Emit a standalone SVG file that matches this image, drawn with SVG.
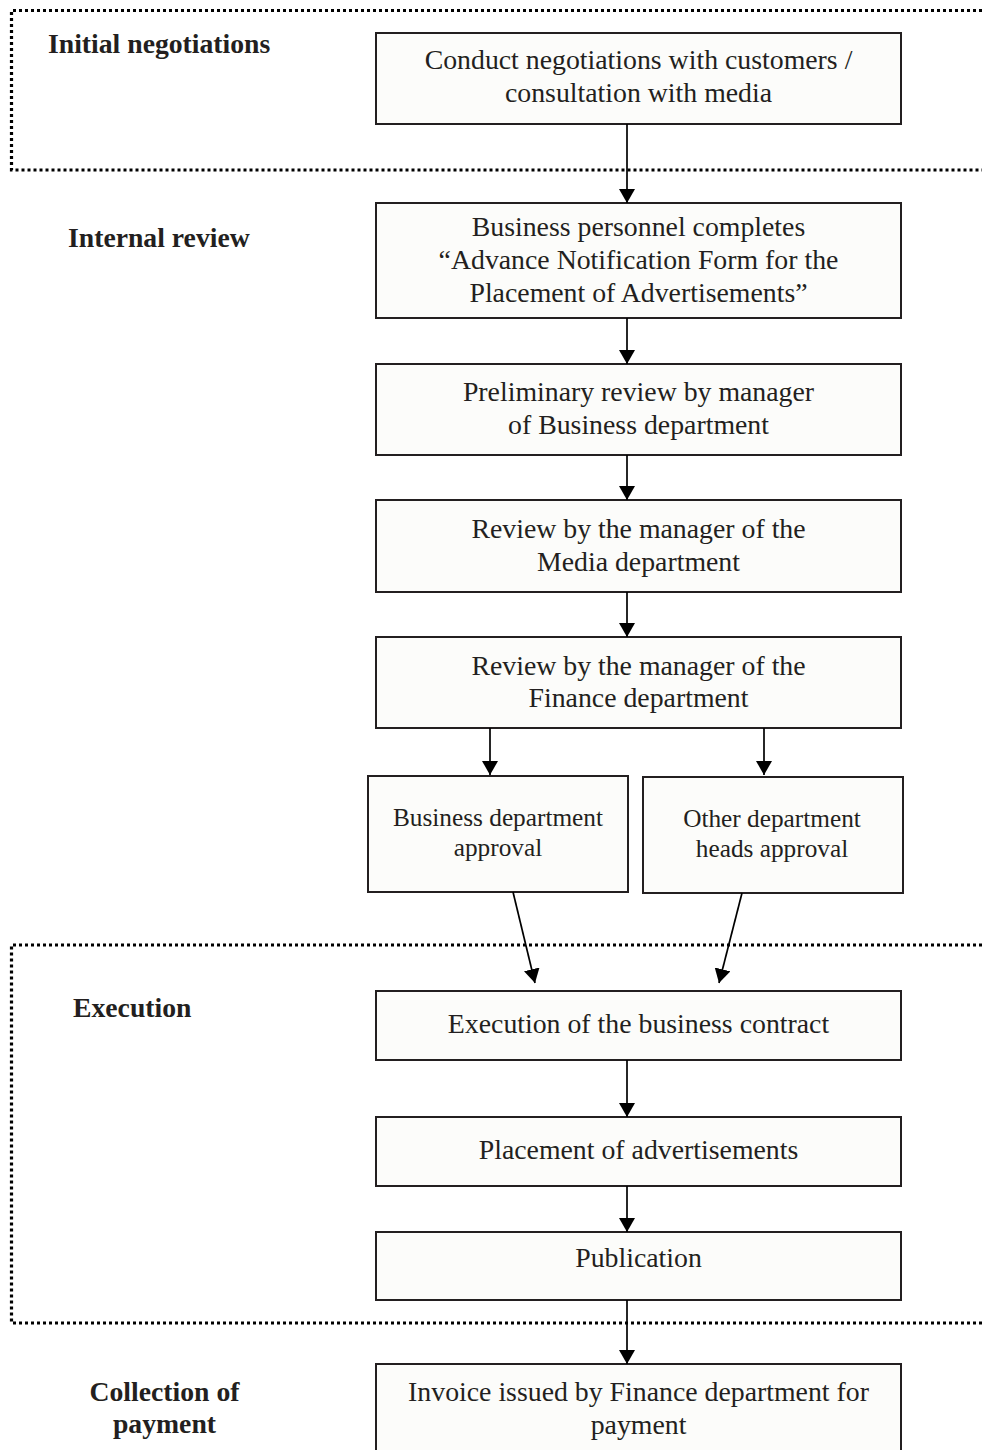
<svg xmlns="http://www.w3.org/2000/svg" width="982" height="1450" viewBox="0 0 982 1450">
<style>
.bg{fill:#ffffff}
.zone{fill:none;stroke:#000;stroke-width:3.2;stroke-dasharray:3 3}
.box{fill:#fcfcfa;stroke:#231f20;stroke-width:2}
.t{font-family:"Liberation Serif","Times New Roman",serif;font-size:27.8px;fill:#231f20;text-anchor:middle}
.ts{font-family:"Liberation Serif","Times New Roman",serif;font-size:25.3px;fill:#231f20;text-anchor:middle}
.lab{font-family:"Liberation Serif","Times New Roman",serif;font-size:27.7px;font-weight:bold;fill:#231f20}
.conn{stroke:#000;stroke-width:1.7;fill:none;marker-end:url(#ah)}
</style>
<defs>
<marker id="ah" markerUnits="userSpaceOnUse" markerWidth="14" markerHeight="16" viewBox="0 0 14 16" refX="14" refY="8" orient="auto">
<path d="M0,0 L14,8 L0,16 z" fill="#000"/>
</marker>
</defs>
<rect class="bg" x="0" y="0" width="982" height="1450"/>
<g id="zones">
<path class="zone" d="M982,10.5 H11.5 V170 H982"/>
<path class="zone" d="M982,945 H11.5 V1323 H982"/>
</g>
<g id="labels">
<text class="lab" x="48" y="53">Initial negotiations</text>
<text class="lab" x="68" y="247">Internal review</text>
<text class="lab" x="73" y="1017">Execution</text>
<text class="lab" x="164.5" y="1401" text-anchor="middle">Collection of</text>
<text class="lab" x="164.5" y="1433" text-anchor="middle">payment</text>
</g>
<g id="n1"><rect class="box" x="376" y="33" width="525" height="91"/>
<text class="t" x="638.5" y="69">Conduct negotiations with customers /</text>
<text class="t" x="638.5" y="102">consultation with media</text></g>
<g id="n2"><rect class="box" x="376" y="203" width="525" height="115"/>
<text class="t" x="638.5" y="236">Business personnel completes</text>
<text class="t" x="638.5" y="269">“Advance Notification Form for the</text>
<text class="t" x="638.5" y="302">Placement of Advertisements”</text></g>
<g id="n3"><rect class="box" x="376" y="364" width="525" height="91"/>
<text class="t" x="638.5" y="401">Preliminary review by manager</text>
<text class="t" x="638.5" y="434">of Business department</text></g>
<g id="n4"><rect class="box" x="376" y="500" width="525" height="92"/>
<text class="t" x="638.5" y="538">Review by the manager of the</text>
<text class="t" x="638.5" y="571">Media department</text></g>
<g id="n5"><rect class="box" x="376" y="637" width="525" height="91"/>
<text class="t" x="638.5" y="675">Review by the manager of the</text>
<text class="t" x="638.5" y="707">Finance department</text></g>
<g id="n6"><rect class="box" x="368" y="776" width="260" height="116"/>
<text class="ts" x="498" y="826">Business department</text>
<text class="ts" x="498" y="856">approval</text></g>
<g id="n7"><rect class="box" x="643" y="777" width="260" height="116"/>
<text class="ts" x="772" y="827">Other department</text>
<text class="ts" x="772" y="857">heads approval</text></g>
<g id="n8"><rect class="box" x="376" y="991" width="525" height="69"/>
<text class="t" x="638.5" y="1033">Execution of the business contract</text></g>
<g id="n9"><rect class="box" x="376" y="1117" width="525" height="69"/>
<text class="t" x="638.5" y="1159">Placement of advertisements</text></g>
<g id="n10"><rect class="box" x="376" y="1232" width="525" height="68"/>
<text class="t" x="638.5" y="1267">Publication</text></g>
<g id="n11"><rect class="box" x="376" y="1364" width="525" height="100"/>
<text class="t" x="638.5" y="1401">Invoice issued by Finance department for</text>
<text class="t" x="638.5" y="1434">payment</text></g>
<g id="connectors">
<line class="conn" x1="627" y1="124" x2="627" y2="203"/>
<line class="conn" x1="627" y1="318" x2="627" y2="364"/>
<line class="conn" x1="627" y1="455" x2="627" y2="500"/>
<line class="conn" x1="627" y1="592" x2="627" y2="637"/>
<line class="conn" x1="490" y1="728" x2="490" y2="775"/>
<line class="conn" x1="764" y1="728" x2="764" y2="775"/>
<line class="conn" x1="513" y1="892" x2="535" y2="983"/>
<line class="conn" x1="742" y1="893" x2="719" y2="983"/>
<line class="conn" x1="627" y1="1060" x2="627" y2="1117"/>
<line class="conn" x1="627" y1="1186" x2="627" y2="1232"/>
<line class="conn" x1="627" y1="1300" x2="627" y2="1364"/>
</g>
</svg>
